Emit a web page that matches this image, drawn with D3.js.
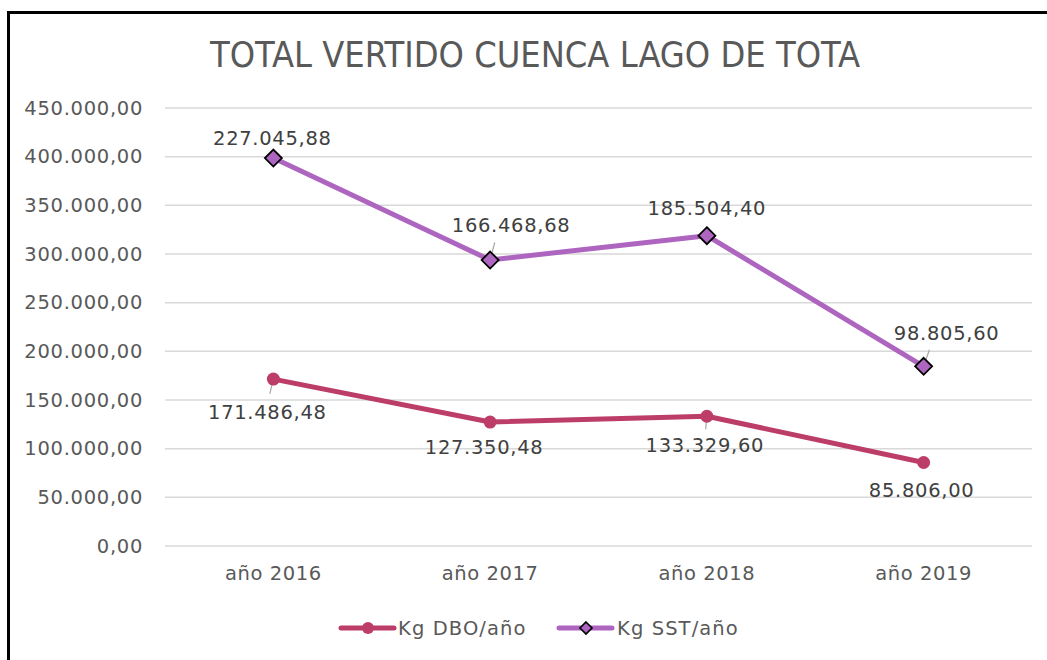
<!DOCTYPE html>
<html><head><meta charset="utf-8">
<script src="https://cdn.jsdelivr.net/npm/d3@7"></script>
<style>body{margin:0;background:#fff}svg{display:block}</style>
</head><body><svg id="c" width="1047" height="660"></svg>
<script>
const categories = ["año 2016","año 2017","año 2018","año 2019"];
const dbo = [171486.48,127350.48,133329.60,85806.00];
const sst = [227045.88,166468.68,185504.40,98805.60];
const yTicks = [0,50000,100000,150000,200000,250000,300000,350000,400000,450000];
const seriesNames = ["Kg DBO/año","Kg SST/año"];
const title = "TOTAL VERTIDO CUENCA LAGO DE TOTA";

const svg = d3.select("#c");
const font = "'DejaVu Sans', Verdana, sans-serif";
const cDBO = "#BC3E68", cSST = "#AD65BF";
const loc = d3.formatLocale({decimal:",",thousands:".",grouping:[3],currency:["",""]});
const fmt = loc.format(",.2f");

// frame
svg.append("rect").attr("x",8.5).attr("y",12.5).attr("width",1060).attr("height",700)
  .attr("fill","#fff").attr("stroke","#000").attr("stroke-width",3);

svg.append("text").attr("x",535).attr("y",67).attr("text-anchor","middle")
  .attr("font-family","'DejaVu Sans Condensed','DejaVu Sans',sans-serif").attr("font-stretch","condensed")
  .attr("font-size",36).attr("fill","#595959")
  .attr("textLength",650).attr("lengthAdjust","spacingAndGlyphs").text(title);

const x = d3.scaleBand().domain(categories).range([165,1032]);
const y = d3.scaleLinear().domain([0,450000]).range([546,108]);

// grid
svg.append("g").selectAll("line").data(yTicks).join("line")
  .attr("x1",165).attr("x2",1032).attr("y1",d=>y(d)).attr("y2",d=>y(d))
  .attr("stroke","#D9D9D9").attr("stroke-width",1.5);

const yAxis = svg.append("g").attr("transform","translate(165,0)")
  .call(d3.axisLeft(y).tickValues(yTicks).tickFormat(fmt).tickSize(0).tickPadding(22));
yAxis.select(".domain").remove();
yAxis.selectAll("text").attr("font-family",font).attr("font-size",19.5).attr("letter-spacing",0.7).attr("fill","#595959");

const xAxis = svg.append("g").attr("transform","translate(0,546)")
  .call(d3.axisBottom(x).tickSize(0).tickPadding(20));
xAxis.select(".domain").remove();
xAxis.selectAll("text").attr("font-family",font).attr("font-size",19.5).attr("letter-spacing",0.6).attr("fill","#595959");

const cx = c => x(c)+x.bandwidth()/2;
const stacked = sst.map((v,i)=>v+dbo[i]);
const ptsDBO = categories.map((c,i)=>[cx(c),y(dbo[i])]);
const ptsSST = categories.map((c,i)=>[cx(c),y(stacked[i])]);

const line = d3.line();
svg.append("path").attr("d",line(ptsDBO)).attr("fill","none").attr("stroke",cDBO).attr("stroke-width",5).attr("stroke-linejoin","round").attr("stroke-linecap","round");
svg.append("path").attr("d",line(ptsSST)).attr("fill","none").attr("stroke",cSST).attr("stroke-width",5).attr("stroke-linejoin","round").attr("stroke-linecap","round");

// label offsets (layout)
const offDBO = [[-6,33],[-6,25],[-2,29],[-2,27]];
const offSST = [[-1,-20],[21,-35],[0,-28],[23,-33]];
const leadDBO = [true,false,true,false];
const leadSST = [false,true,false,true];

function leaders(pts, offs, flags){
  pts.forEach((p,i)=>{
    if(!flags[i]) return;
    const [dx,dy]=offs[i];
    const tx = p[0]+dx*0.6 + (dx>10?-8:0), ty = p[1]+dy*(dy>0?0.45:0.5);
    svg.append("line").attr("x1",p[0]).attr("y1",p[1]).attr("x2",tx).attr("y2",ty)
      .attr("stroke","#A6A6A6").attr("stroke-width",1.2);
  });
}
leaders(ptsDBO,offDBO,leadDBO);
leaders(ptsSST,offSST,leadSST);

svg.append("g").selectAll("circle").data(ptsDBO).join("circle")
  .attr("cx",d=>d[0]).attr("cy",d=>d[1]).attr("r",6.5).attr("fill",cDBO);
const diamond = (s)=>`M0,${-s}L${s},0L0,${s}L${-s},0Z`;
svg.append("g").selectAll("path").data(ptsSST).join("path")
  .attr("transform",d=>`translate(${d[0]},${d[1]})`).attr("d",diamond(8.5))
  .attr("fill",cSST).attr("stroke","#000").attr("stroke-width",1.8);

function labels(pts, vals, offs){
  svg.append("g").selectAll("text").data(pts).join("text")
    .attr("x",(d,i)=>d[0]+offs[i][0]).attr("y",(d,i)=>d[1]+offs[i][1])
    .attr("dy","0.36em").attr("text-anchor","middle")
    .attr("font-family",font).attr("font-size",19.5).attr("letter-spacing",0.7).attr("fill","#404040")
    .text((d,i)=>fmt(vals[i]));
}
labels(ptsDBO,dbo,offDBO);
labels(ptsSST,sst,offSST);

// legend
const lg = svg.append("g");
lg.append("line").attr("x1",341).attr("x2",394).attr("y1",628).attr("y2",628).attr("stroke",cDBO).attr("stroke-width",5).attr("stroke-linecap","round");
lg.append("circle").attr("cx",368).attr("cy",628).attr("r",6).attr("fill",cDBO);
lg.append("text").attr("x",398).attr("y",628).attr("dy","0.36em").attr("font-family",font).attr("font-size",19.5).attr("letter-spacing",1.1).attr("fill","#595959").text(seriesNames[0]);
lg.append("line").attr("x1",559).attr("x2",612).attr("y1",628).attr("y2",628).attr("stroke",cSST).attr("stroke-width",5).attr("stroke-linecap","round");
lg.append("path").attr("transform","translate(586,628)").attr("d",diamond(6)).attr("fill",cSST).attr("stroke","#000").attr("stroke-width",1.6);
lg.append("text").attr("x",617).attr("y",628).attr("dy","0.36em").attr("font-family",font).attr("font-size",19.5).attr("letter-spacing",1.1).attr("fill","#595959").text(seriesNames[1]);
</script></body></html>
